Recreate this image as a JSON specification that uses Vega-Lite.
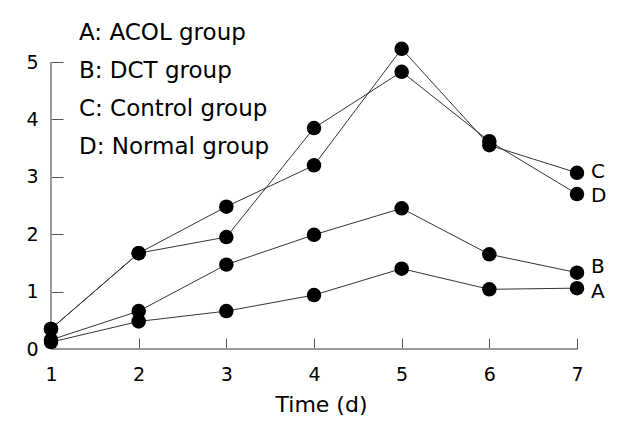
{
  "$schema": "https://vega.github.io/schema/vega-lite/v6.json",
  "width": 526,
  "height": 287,
  "autosize": {"type": "none"},
  "padding": {"left": 51, "top": 62, "right": 52, "bottom": 88},
  "background": "white",
  "config": {
    "view": {"stroke": null},
    "font": "DejaVu Sans",
    "axis": {"grid": false, "labelColor": "black", "titleColor": "black", "labelFont": "DejaVu Sans", "titleFont": "DejaVu Sans"}
  },
  "datasets": {
    "xticks": [{"t": 1}, {"t": 2}, {"t": 3}, {"t": 4}, {"t": 5}, {"t": 6}, {"t": 7}],
    "yticks": [{"t": 0}, {"t": 1}, {"t": 2}, {"t": 3}, {"t": 4}, {"t": 5}]
  },
  "data": {
    "values": [
      {"day": 1, "value": 0.12, "group": "A: ACOL group", "label": "A"},
      {"day": 2, "value": 0.48, "group": "A: ACOL group", "label": "A"},
      {"day": 3, "value": 0.66, "group": "A: ACOL group", "label": "A"},
      {"day": 4, "value": 0.94, "group": "A: ACOL group", "label": "A"},
      {"day": 5, "value": 1.4, "group": "A: ACOL group", "label": "A"},
      {"day": 6, "value": 1.04, "group": "A: ACOL group", "label": "A"},
      {"day": 7, "value": 1.06, "group": "A: ACOL group", "label": "A"},
      {"day": 1, "value": 0.16, "group": "B: DCT group", "label": "B"},
      {"day": 2, "value": 0.66, "group": "B: DCT group", "label": "B"},
      {"day": 3, "value": 1.47, "group": "B: DCT group", "label": "B"},
      {"day": 4, "value": 1.99, "group": "B: DCT group", "label": "B"},
      {"day": 5, "value": 2.45, "group": "B: DCT group", "label": "B"},
      {"day": 6, "value": 1.65, "group": "B: DCT group", "label": "B"},
      {"day": 7, "value": 1.33, "group": "B: DCT group", "label": "B"},
      {"day": 1, "value": 0.35, "group": "C: Control group", "label": "C"},
      {"day": 2, "value": 1.67, "group": "C: Control group", "label": "C"},
      {"day": 3, "value": 2.48, "group": "C: Control group", "label": "C"},
      {"day": 4, "value": 3.2, "group": "C: Control group", "label": "C"},
      {"day": 5, "value": 5.23, "group": "C: Control group", "label": "C"},
      {"day": 6, "value": 3.55, "group": "C: Control group", "label": "C"},
      {"day": 7, "value": 3.07, "group": "C: Control group", "label": "C"},
      {"day": 1, "value": 0.35, "group": "D: Normal group", "label": "D"},
      {"day": 2, "value": 1.67, "group": "D: Normal group", "label": "D"},
      {"day": 3, "value": 1.95, "group": "D: Normal group", "label": "D"},
      {"day": 4, "value": 3.85, "group": "D: Normal group", "label": "D"},
      {"day": 5, "value": 4.83, "group": "D: Normal group", "label": "D"},
      {"day": 6, "value": 3.62, "group": "D: Normal group", "label": "D"},
      {"day": 7, "value": 2.7, "group": "D: Normal group", "label": "D"}
    ]
  },
  "encoding": {
    "x": {
      "field": "day", "type": "quantitative",
      "scale": {"domain": [1, 7], "nice": false, "zero": false},
      "axis": {"values": [1, 2, 3, 4, 5, 6, 7], "title": "Time (d)", "titleFontSize": 22, "titleFontWeight": "normal", "titlePadding": 10, "titleX": 270, "titleAlign": "center", "labelFontSize": 19, "offset": -11, "domain": false, "ticks": true, "tickColor": "#555555", "tickWidth": 1, "tickSize": 11, "labelPadding": 16, "labelFlush": false}
    },
    "y": {
      "field": "value", "type": "quantitative",
      "scale": {"domain": [0, 5], "nice": false},
      "axis": {"values": [0, 1, 2, 3, 4, 5], "title": null, "labelFontSize": 19, "offset": -12, "domain": false, "ticks": true, "tickColor": "#555555", "tickWidth": 1, "tickSize": 12, "labelPadding": 13, "labelFlush": false}
    }
  },
  "layer": [
    {
      "mark": {"type": "rule", "color": "#999999", "strokeWidth": 1},
      "encoding": {"x": {"datum": 1}, "y": {"datum": 0}, "y2": {"datum": 5}}
    },
    {
      "mark": {"type": "rule", "color": "#999999", "strokeWidth": 1},
      "encoding": {"y": {"datum": 0}, "x": {"datum": 1}, "x2": {"datum": 7}}
    },
    {
      "data": {"name": "yticks"},
      "mark": {"type": "rule", "color": "#555555", "strokeWidth": 1},
      "encoding": {"x": {"datum": 1}, "x2": {"datum": 1.137}, "y": {"field": "t", "type": "quantitative"}}
    },
    {
      "data": {"name": "xticks"},
      "mark": {"type": "rule", "color": "#555555", "strokeWidth": 1},
      "encoding": {"y": {"datum": 0}, "y2": {"datum": 0.19}, "x": {"field": "t", "type": "quantitative"}}
    },
    {
      "mark": {"type": "line", "strokeWidth": 1, "color": "#333333"},
      "encoding": {
        "color": {
          "field": "group", "type": "nominal",
          "scale": {"range": ["#333333", "#333333", "#333333", "#333333"]},
          "legend": {"orient": "none", "legendX": 5, "legendY": -41, "title": null, "symbolSize": 0, "symbolOpacity": 0, "symbolStrokeWidth": 0, "labelOffset": 0, "labelFontSize": 23, "labelFont": "DejaVu Sans", "labelColor": "black", "rowPadding": 14, "labelLimit": 400}
        }
      }
    },
    {
      "mark": {"type": "point", "filled": true, "size": 210, "color": "black", "opacity": 1},
      "encoding": {"detail": {"field": "group", "type": "nominal"}}
    },
    {
      "transform": [{"filter": "datum.day == 7 && datum.label == 'C'"}],
      "mark": {"type": "text", "align": "left", "baseline": "middle", "dx": 14, "dy": -1, "fontSize": 20, "color": "black"},
      "encoding": {"text": {"field": "label", "type": "nominal"}}
    },
    {
      "transform": [{"filter": "datum.day == 7 && datum.label == 'D'"}],
      "mark": {"type": "text", "align": "left", "baseline": "middle", "dx": 14, "dy": 2, "fontSize": 20, "color": "black"},
      "encoding": {"text": {"field": "label", "type": "nominal"}}
    },
    {
      "transform": [{"filter": "datum.day == 7 && datum.label == 'B'"}],
      "mark": {"type": "text", "align": "left", "baseline": "middle", "dx": 14, "dy": -6, "fontSize": 20, "color": "black"},
      "encoding": {"text": {"field": "label", "type": "nominal"}}
    },
    {
      "transform": [{"filter": "datum.day == 7 && datum.label == 'A'"}],
      "mark": {"type": "text", "align": "left", "baseline": "middle", "dx": 14, "dy": 4, "fontSize": 20, "color": "black"},
      "encoding": {"text": {"field": "label", "type": "nominal"}}
    }
  ]
}
